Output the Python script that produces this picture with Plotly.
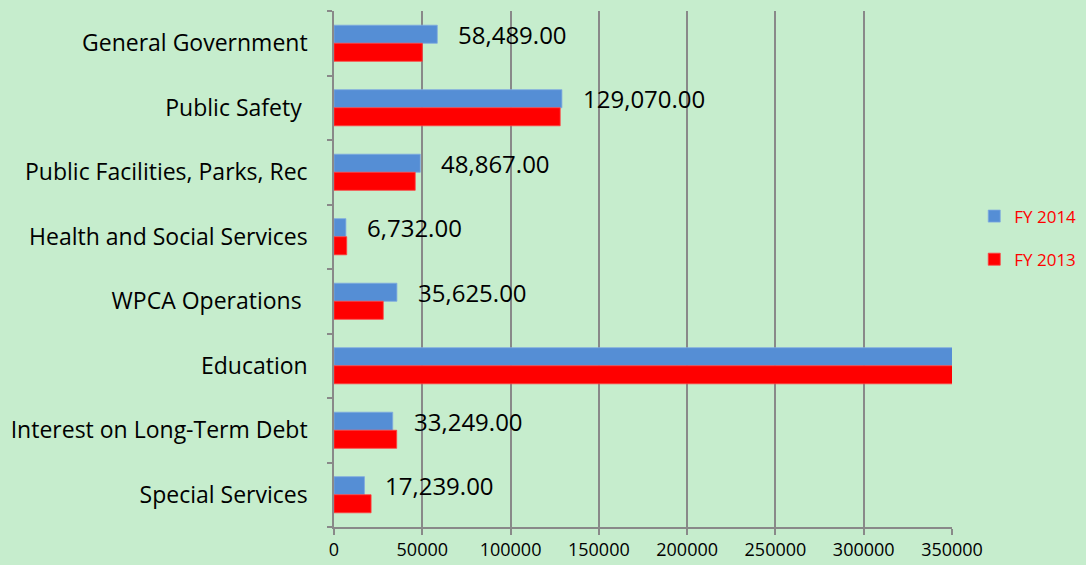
import plotly.graph_objects as go

categories = ["General Government", "Public Safety\u00a0", "Public Facilities, Parks, Rec",
              "Health and Social Services", "WPCA Operations\u00a0", "Education",
              "Interest on Long-Term Debt", "Special Services"]
fy2014 = [58489, 129070, 48867, 6732, 35625, 362000, 33249, 17239]
fy2013 = [50000, 128100, 46000, 7200, 27900, 360000, 35500, 21000]
x_max = 350000
x_ticks = [0, 50000, 100000, 150000, 200000, 250000, 300000, 350000]

BG = "#C6EDCD"
BLUE = "#558ED5"
RED = "#FF0000"
GRID = "#898989"
FONT = "Open Sans"

pos = list(range(len(categories)))
bw = 0.28

fig = go.Figure()
fig.add_trace(go.Bar(
    name="FY 2014", y=pos, x=fy2014, orientation="h",
    marker=dict(color=BLUE, line=dict(color="#7FAAE0", width=0.8)),
    width=bw, offset=-bw, legendgroup="a",
))
fig.add_trace(go.Bar(
    name="FY 2013", y=pos, x=fy2013, orientation="h",
    marker=dict(color=RED, line=dict(color="#FF4040", width=0.8)),
    width=bw, offset=0, legendgroup="b",
))

annotations = []
for p, v in zip(pos, fy2014):
    if v <= x_max:
        annotations.append(dict(
            x=v, y=p - bw / 2, xref="x", yref="y", text=f"{v:,.2f}",
            showarrow=False, xanchor="left", yanchor="middle", xshift=19,
            font=dict(family=FONT, size=24, color="#000000"),
        ))

fig.update_layout(
    width=1086, height=565,
    paper_bgcolor=BG, plot_bgcolor=BG,
    margin=dict(l=334, r=134, t=11, b=38, autoexpand=False),
    barmode="overlay",
    font=dict(family=FONT, color="#000000"),
    showlegend=True,
    legend=dict(x=1.036, y=0.56, xanchor="left", yanchor="middle",
                font=dict(family=FONT, size=17, color=RED),
                itemwidth=30, tracegroupgap=18, bgcolor="rgba(0,0,0,0)"),
    annotations=annotations,
    xaxis=dict(
        range=[0, x_max], tickvals=x_ticks, ticktext=[str(t) for t in x_ticks],
        showgrid=True, gridcolor=GRID, gridwidth=1.5,
        showline=True, linecolor=GRID, linewidth=1.5,
        ticks="outside", ticklen=6, tickcolor=GRID, tickwidth=1.5,
        tickfont=dict(family=FONT, size=18, color="#000000"),
        zeroline=False,
    ),
    yaxis=dict(
        range=[len(categories) - 0.5, -0.5],
        tickvals=pos, ticktext=categories,
        showgrid=False, zeroline=False,
        showline=True, linecolor=GRID, linewidth=1.5,
        ticks="", ticklabelstandoff=20,
        tickfont=dict(family=FONT, size=23, color="#000000"),
        minor=dict(tickvals=[p - 0.5 for p in pos] + [len(categories) - 0.5],
                   ticks="outside", ticklen=5, tickcolor=GRID, tickwidth=1.5,
                   showgrid=False),
    ),
)

fig.write_html("out.html",
               config={"displayModeBar": False},
               post_script="document.body.style.margin='0';document.body.style.overflow='hidden';")
